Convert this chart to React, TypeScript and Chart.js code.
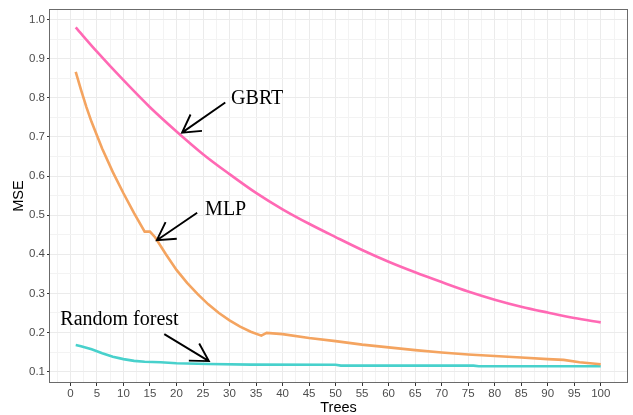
import React, { useEffect, useRef } from "react";
import { Chart, registerables } from "chart.js";

Chart.register(...registerables);

// ---- data ----
const gbrtTrees = [1, 5, 10, 15, 20, 25, 30, 35, 40, 45, 50, 55, 60, 65, 70, 75, 80, 85, 90, 95, 100];
const gbrtMse = [0.98, 0.918, 0.845, 0.776, 0.714, 0.656, 0.605, 0.557, 0.515, 0.478, 0.444, 0.411, 0.381, 0.354, 0.329, 0.305, 0.284, 0.266, 0.251, 0.237, 0.226];

const mlpTrees = [1, 2, 3, 4, 6, 8, 10, 12, 14, 15, 16, 18, 20, 22, 24, 26, 28, 30, 32, 34, 36, 37, 40, 45, 50, 55, 60, 65, 70, 75, 80, 85, 90, 93, 96, 100];
const mlpMse = [0.866, 0.82, 0.777, 0.738, 0.67, 0.61, 0.556, 0.505, 0.458, 0.458, 0.443, 0.4, 0.36, 0.327, 0.298, 0.272, 0.25, 0.231, 0.215, 0.202, 0.192, 0.199, 0.196, 0.186, 0.178, 0.169, 0.162, 0.155, 0.149, 0.144, 0.14, 0.136, 0.132, 0.13, 0.124, 0.119];

const rfTrees = [1, 2, 4, 6, 8, 10, 12, 14, 17, 20, 26, 34, 50, 51, 76, 77, 100];
const rfMse = [0.168, 0.165, 0.157, 0.147, 0.138, 0.132, 0.1275, 0.1255, 0.124, 0.1215, 0.1197, 0.118, 0.1175, 0.1155, 0.1155, 0.114, 0.114];

const seriesNames = ["GBRT", "MLP", "Random forest"];
const seriesColors = ["#FF69B4", "#F4A460", "#48D1CC"];
const seriesSmooth = [true, false, false];

const xTickLabels = [0, 5, 10, 15, 20, 25, 30, 35, 40, 45, 50, 55, 60, 65, 70, 75, 80, 85, 90, 95, 100];
const yTickLabels = [0.1, 0.2, 0.3, 0.4, 0.5, 0.6, 0.7, 0.8, 0.9, 1.0];

// annotations (data coordinates)
const noteText = ["GBRT", "MLP", "Random forest"];
const noteX = [30.3, 25.4, -1.9];
const noteY = [0.783, 0.5015, 0.219];
const arrowFromX = [29.2, 23.9, 17.7];
const arrowFromY = [0.788, 0.506, 0.196];
const arrowToX = [21.05, 16.3, 26.1];
const arrowToY = [0.711, 0.436, 0.127];

const xMin = -3.85, xMax = 104.95, yMin = 0.071, yMax = 1.027;

const isMajorX = (v: number) => Math.abs(v / 5 - Math.round(v / 5)) < 1e-6;
const isMajorY = (v: number) => Math.abs(v / 0.1 - Math.round(v / 0.1)) < 1e-6;

function withMinors(major: number[], half: number, lo: number, hi: number) {
  const out: number[] = [];
  const first = major[0] - half;
  const last = major[major.length - 1] + half;
  if (first >= lo) out.push(first);
  major.forEach((m, i) => {
    out.push(m);
    if (i < major.length - 1) out.push(+(m + half).toFixed(6));
  });
  if (last <= hi) out.push(last);
  return out;
}

const panelPlugin = {
  id: "panelAndNotes",
  afterDatasetsDraw(chart: any) {
    const { ctx, chartArea, scales } = chart;
    const xs = scales.x, ys = scales.y;
    ctx.save();
    // arrows
    ctx.strokeStyle = "#000";
    ctx.lineWidth = 1.9;
    ctx.lineCap = "butt";
    for (let i = 0; i < arrowFromX.length; i++) {
      const x1 = xs.getPixelForValue(arrowFromX[i]);
      const y1 = ys.getPixelForValue(arrowFromY[i]);
      const x2 = xs.getPixelForValue(arrowToX[i]);
      const y2 = ys.getPixelForValue(arrowToY[i]);
      ctx.beginPath();
      ctx.moveTo(x1, y1);
      ctx.lineTo(x2, y2);
      const ang = Math.atan2(y1 - y2, x1 - x2);
      const L = 20, a = Math.PI / 6;
      ctx.moveTo(x2 + L * Math.cos(ang - a), y2 + L * Math.sin(ang - a));
      ctx.lineTo(x2, y2);
      ctx.lineTo(x2 + L * Math.cos(ang + a), y2 + L * Math.sin(ang + a));
      ctx.stroke();
    }
    // texts
    ctx.fillStyle = "#000";
    ctx.font = '20px "Liberation Serif"';
    ctx.textAlign = "left";
    ctx.textBaseline = "alphabetic";
    for (let i = 0; i < noteText.length; i++) {
      ctx.fillText(noteText[i], xs.getPixelForValue(noteX[i]), ys.getPixelForValue(noteY[i]));
    }
    // panel border
    ctx.strokeStyle = "#6b6b6b";
    ctx.lineWidth = 1;
    ctx.strokeRect(
      Math.round(chartArea.left) - 0.5,
      Math.round(chartArea.top) + 0.5,
      Math.round(chartArea.right - chartArea.left) + 1,
      Math.round(chartArea.bottom - chartArea.top) - 1
    );
    ctx.restore();
  },
};

export default function App() {
  const ref = useRef<HTMLCanvasElement | null>(null);
  useEffect(() => {
    if (!ref.current) return;
    const mk = (tr: number[], ms: number[]) => tr.map((t, i) => ({ x: t, y: ms[i] }));
    const data = [mk(gbrtTrees, gbrtMse), mk(mlpTrees, mlpMse), mk(rfTrees, rfMse)];
    const chart = new Chart(ref.current, {
      type: "scatter",
      data: {
        datasets: data.map((d, i) => ({
          label: seriesNames[i],
          data: d,
          showLine: true,
          borderColor: seriesColors[i],
          backgroundColor: seriesColors[i],
          borderWidth: 2.6,
          pointRadius: 0,
          cubicInterpolationMode: seriesSmooth[i] ? "monotone" : "default",
          tension: 0,
        })),
      },
      options: {
        responsive: false,
        animation: false,
        layout: { padding: { top: 9, right: 6, left: 0, bottom: 0 } },
        plugins: { legend: { display: false }, tooltip: { enabled: false } },
        scales: {
          x: {
            type: "linear",
            min: xMin,
            max: xMax,
            afterBuildTicks: (s: any) => {
              s.ticks = withMinors(xTickLabels, 2.5, xMin, xMax).map((v) => ({ value: v }));
            },
            afterFit: (s: any) => {
              s.height = 32;
            },
            ticks: {
              autoSkip: false,
              maxRotation: 0,
              padding: 1,
              color: "#4D4D4D",
              font: { family: "Liberation Sans", size: 11.5 },
              callback: (v: any) => (isMajorX(+v) ? String(Math.round(+v)) : ""),
            },
            grid: {
              color: (c: any) => (isMajorX(c.tick.value) ? "#EBEBEB" : "#F3F3F3"),
              lineWidth: 1,
              tickLength: 3,
              tickColor: (c: any) => (isMajorX(c.tick.value) ? "#333333" : "rgba(0,0,0,0)"),
            },
            border: { display: false },
            title: {
              display: true,
              text: "Trees",
              color: "#000",
              font: { family: "Liberation Sans", size: 14.5, lineHeight: 1 },
              padding: { top: 0, bottom: 0 },
            },
          },
          y: {
            type: "linear",
            min: yMin,
            max: yMax,
            afterBuildTicks: (s: any) => {
              s.ticks = withMinors(yTickLabels, 0.05, yMin, yMax).map((v) => ({ value: v }));
            },
            afterFit: (s: any) => {
              s.width = 50;
            },
            ticks: {
              autoSkip: false,
              padding: 2,
              color: "#4D4D4D",
              font: { family: "Liberation Sans", size: 11.5 },
              callback: (v: any) => (isMajorY(+v) ? (+v).toFixed(1) : ""),
            },
            grid: {
              color: (c: any) => (isMajorY(c.tick.value) ? "#EBEBEB" : "#F3F3F3"),
              lineWidth: 1,
              tickLength: 3,
              tickColor: (c: any) => (isMajorY(c.tick.value) ? "#333333" : "rgba(0,0,0,0)"),
            },
            border: { display: false },
            title: {
              display: true,
              text: "MSE",
              color: "#000",
              font: { family: "Liberation Sans", size: 14.5, lineHeight: 1 },
              padding: { top: 12, bottom: 0 },
            },
          },
        },
      },
      plugins: [panelPlugin],
    } as any);
    return () => chart.destroy();
  }, []);
  return (
    <div style={{ position: "fixed", left: 0, top: 0, width: 633, height: 415, background: "#fff" }}>
      <canvas ref={ref} width={633} height={415} style={{ display: "block" }} />
    </div>
  );
}
